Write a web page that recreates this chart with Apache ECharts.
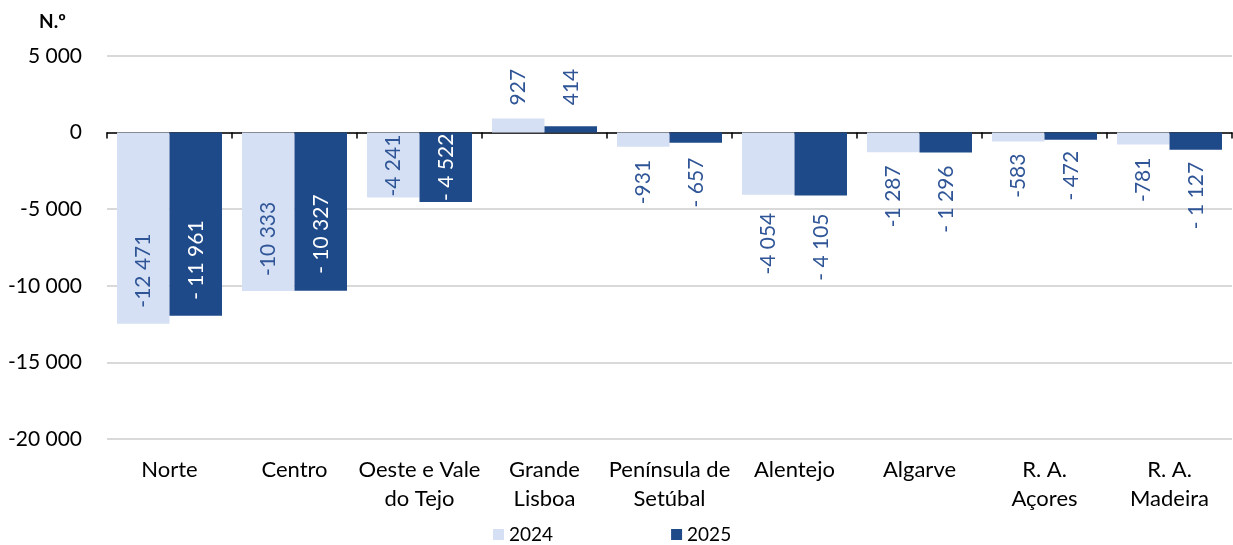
<!DOCTYPE html>
<html>
<head>
<meta charset="utf-8">
<script src="https://cdn.jsdelivr.net/npm/echarts@6/dist/echarts.min.js"></script>
<style>
html,body{margin:0;padding:0;background:#fff;}
#chart{width:1233px;height:545px;}
</style>
</head>
<body>
<div id="chart"></div>
<script>
const categories = ["Norte", "Centro", "Oeste e Vale\ndo Tejo", "Grande\nLisboa", "Península de\nSetúbal", "Alentejo", "Algarve", "R. A.\nAçores", "R. A.\nMadeira"];
const seriesNames = ["2024", "2025"];
const values2024 = [-12471, -10333, -4241, 927, -931, -4054, -1287, -583, -781];
const values2025 = [-11961, -10327, -4522, 414, -657, -4105, -1296, -472, -1127];
const yTicks = [5000, 0, -5000, -10000, -15000, -20000];
// label placement per point: 'in' = inside end, 'out' = outside end
const place2024 = ["in", "in", "in", "out", "out", "out", "out", "out", "out"];
const place2025 = ["in", "in", "in", "out", "out", "out", "out", "out", "out"];
const dist2024 = [16, 15, 1, 13, 13, 18, 13, 12, 13];
const dist2025 = [16, 17, 1, 21, 15, 18, 13, 11, 12];

const FONT = "Lato";
const LIGHT = "#D5E0F5";
const DARK = "#1F4A89";
const LABEL = "#2F5597";

function grp(n) {
  return String(Math.abs(n)).replace(/\B(?=(\d{3})+(?!\d))/g, " ");
}
function fmt2024(v) { return (v < 0 ? "-" : "") + grp(v); }
function fmt2025(v) { return (v < 0 ? "- " : "") + grp(v); }

function buildData(vals, place, dist, fmt, insideColor) {
  return vals.map((v, i) => {
    let pos, align;
    if (place[i] === "in") {
      pos = v < 0 ? "insideBottom" : "insideTop";
      align = v < 0 ? "left" : "right";
    } else {
      pos = v < 0 ? "bottom" : "top";
      align = v < 0 ? "right" : "left";
    }
    return {
      value: v,
      label: {
        show: true,
        position: pos,
        distance: dist[i],
        rotate: 90,
        align: align,
        verticalAlign: "middle",
        color: place[i] === "in" ? insideColor : LABEL,
        formatter: () => fmt(v)
      }
    };
  });
}

const chart = echarts.init(document.getElementById("chart"));
chart.setOption({
  animation: false,
  backgroundColor: "#fff",
  textStyle: { fontFamily: FONT },
  graphic: [{
    type: "text", left: 39, top: 12,
    style: { text: "N.º", font: "bold 19px " + FONT, fill: "#000" }
  }],
  legend: {
    bottom: -4, left: 488,
    itemWidth: 11, itemHeight: 11, itemGap: 118,
    icon: "rect",
    textStyle: { fontFamily: FONT, fontSize: 19, color: "#000" },
    data: seriesNames
  },
  grid: { left: 107, right: 1, top: 56, bottom: 106 },
  xAxis: [{
    type: "category",
    data: categories,
    axisLine: { onZero: true, lineStyle: { color: "#000", width: 1.5 } },
    axisTick: { show: true, length: 6, lineStyle: { color: "#000", width: 1.5 } },
    axisLabel: { show: false }
  }, {
    type: "category",
    data: categories,
    position: "bottom",
    axisLine: { show: false, onZero: false },
    axisTick: { show: false },
    axisLabel: { show: true, margin: 16, fontFamily: FONT, fontSize: 22, color: "#000", lineHeight: 29, interval: 0 }
  }],
  yAxis: {
    type: "value",
    min: -20000, max: 5000, interval: 5000,
    axisLine: { show: false },
    axisTick: { show: false },
    splitLine: { lineStyle: { color: "#D9D9D9", width: 2 } },
    axisLabel: { margin: 25, fontFamily: FONT, fontSize: 21, color: "#000",
      formatter: v => (v < 0 ? "-" : "") + grp(v) }
  },
  series: [{
    name: seriesNames[0], type: "bar", xAxisIndex: 0,
    barGap: "0%", barCategoryGap: "16%",
    itemStyle: { color: LIGHT },
    label: { fontFamily: FONT, fontSize: 21 },
    data: buildData(values2024, place2024, dist2024, fmt2024, LABEL)
  }, {
    name: seriesNames[1], type: "bar", xAxisIndex: 0,
    barGap: "0%", barCategoryGap: "16%",
    itemStyle: { color: DARK },
    label: { fontFamily: FONT, fontSize: 21 },
    data: buildData(values2025, place2025, dist2025, fmt2025, "#FFFFFF")
  }]
});
</script>
</body>
</html>
